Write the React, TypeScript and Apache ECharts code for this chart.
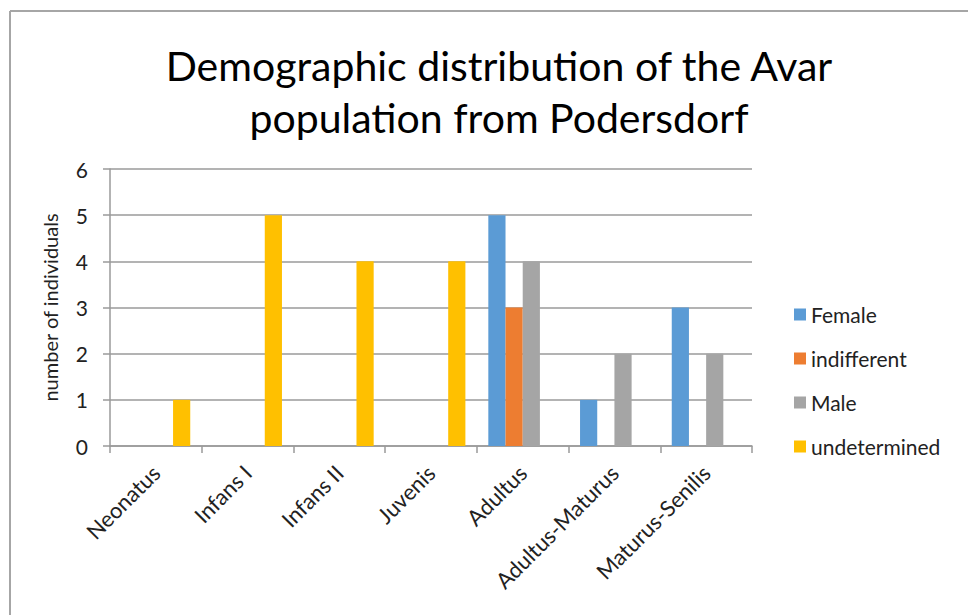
import React, { useEffect, useRef } from "react";
import * as echarts from "echarts";

const categories = ["Neonatus", "Infans I", "Infans II", "Juvenis", "Adultus", "Adultus-Maturus", "Maturus-Senilis"];
const female = [0, 0, 0, 0, 5, 1, 3];
const indifferent = [0, 0, 0, 0, 3, 0, 0];
const male = [0, 0, 0, 0, 4, 2, 2];
const undetermined = [1, 5, 4, 4, 0, 0, 0];
const yTicks = { min: 0, max: 6, interval: 1 };

const FONT = "Lato, 'Open Sans', sans-serif";

export default function App() {
  const ref = useRef<HTMLDivElement>(null);
  useEffect(() => {
    document.body.style.margin = "0";
    const chart = echarts.init(ref.current!, null, { renderer: "svg" });
    const mk = (name: string, data: number[], color: string) => ({
      name,
      type: "bar",
      data: data.map((v) => (v === 0 ? null : v)),
      itemStyle: { color },
      barGap: "0%",
      barCategoryGap: "25%",
    });
    chart.setOption({
      animation: false,
      backgroundColor: "#ffffff",
      textStyle: { fontFamily: FONT },
      title: {
        text: "Demographic distribution of the Avar\npopulation from Podersdorf",
        left: 494,
        top: 34,
        textAlign: "center",
        textStyle: { fontFamily: FONT, fontSize: 41, fontWeight: "normal", color: "#000", lineHeight: 52 },
      },
      legend: {
        orient: "vertical",
        left: 789,
        top: 298,
        itemWidth: 12,
        itemHeight: 12,
        itemGap: 21,
        icon: "rect",
        textStyle: { fontFamily: FONT, fontSize: 21, color: "#222", lineHeight: 23 },
        data: ["Female", "indifferent", "Male", "undetermined"],
      },
      grid: { left: 110, right: 216, top: 169, bottom: 169, containLabel: false },
      xAxis: {
        type: "category",
        data: categories,
        axisLine: { lineStyle: { color: "#9a9a9a", width: 1.5 } },
        axisTick: { show: true, length: 7, lineStyle: { color: "#9a9a9a", width: 1.5 } },
        axisLabel: { rotate: 45, fontSize: 22, color: "#222", fontFamily: FONT, margin: 23, interval: 0 },
      },
      yAxis: {
        type: "value",
        min: yTicks.min,
        max: yTicks.max,
        interval: yTicks.interval,
        name: "number of individuals",
        nameLocation: "middle",
        nameGap: 50,
        nameTextStyle: { fontSize: 20, color: "#222", fontFamily: FONT },
        axisLine: { show: true, lineStyle: { color: "#9a9a9a", width: 1.5 } },
        axisTick: { show: true, length: 7, lineStyle: { color: "#9a9a9a", width: 1.5 } },
        axisLabel: { fontSize: 21, color: "#222", fontFamily: FONT, margin: 22 },
        splitLine: { lineStyle: { color: "#9a9a9a", width: 1.5 } },
      },
      series: [
        mk("Female", female, "#5B9BD5"),
        mk("indifferent", indifferent, "#ED7D31"),
        mk("Male", male, "#A5A5A5"),
        mk("undetermined", undetermined, "#FFC000"),
      ],
      graphic: [
        { type: "line", shape: { x1: 10, y1: 11, x2: 968, y2: 11 }, style: { stroke: "#a6a6a6", lineWidth: 2 } },
        { type: "line", shape: { x1: 10, y1: 11, x2: 10, y2: 615 }, style: { stroke: "#a6a6a6", lineWidth: 2 } },
      ],
    });
    return () => chart.dispose();
  }, []);
  return <div ref={ref} style={{ width: 968, height: 615, position: "absolute", left: 0, top: 0 }} />;
}
